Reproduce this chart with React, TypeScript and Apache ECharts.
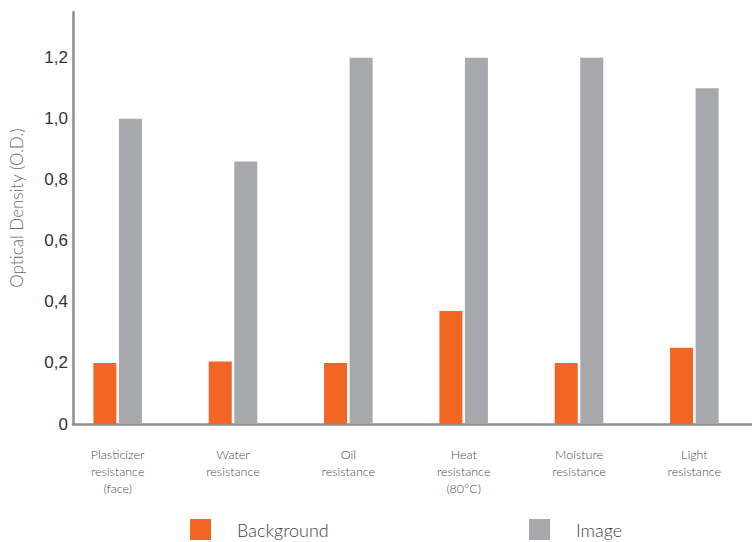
import React, { useEffect, useRef } from "react";
import * as echarts from "echarts";

const categories = [
  "Plasticizer\nresistance\n(face)",
  "Water\nresistance",
  "Oil\nresistance",
  "Heat\nresistance\n(80°C)",
  "Moisture\nresistance",
  "Light\nresistance",
];
const backgroundValues = [0.2, 0.205, 0.2, 0.37, 0.2, 0.25];
const imageValues = [1.0, 0.86, 1.2, 1.2, 1.2, 1.1];
const seriesNames = ["Background", "Image"];
const yAxisTitle = "Optical Density (O.D.)";

const ORANGE = "#F26522";
const GRAY = "#A7A8AB";
const AXIS = "#8E8E8E";
const LIGHT_FONT = "Lato, 'Open Sans', sans-serif";

export default function App() {
  const ref = useRef<HTMLDivElement>(null);
  useEffect(() => {
    if (!ref.current) return;
    const chart = echarts.init(ref.current, undefined, { renderer: "svg" });
    const yScale = { min: 0, max: 1.35, interval: 0.2 };
    const legendText = {
      fontSize: 18,
      color: "#444444",
      fontFamily: LIGHT_FONT,
      fontWeight: 300,
      padding: [0, 0, 0, 21],
    };
    chart.setOption({
      animation: false,
      backgroundColor: "#ffffff",
      grid: [
        { left: 72, right: 0, top: 12, bottom: 118 },
        { left: 60, right: -5, top: 12, bottom: 118 },
      ],
      xAxis: [
        {
          gridIndex: 0,
          type: "value",
          min: 0,
          max: 1,
          axisLine: { show: true, lineStyle: { color: AXIS, width: 2.5 } },
          axisTick: { show: false },
          axisLabel: { show: false },
          splitLine: { show: false },
        },
        {
          gridIndex: 1,
          type: "category",
          data: categories,
          axisLine: { show: false },
          axisTick: { show: false },
          axisLabel: {
            margin: 22,
            fontSize: 12.5,
            lineHeight: 17,
            color: "#4a4a4a",
            fontFamily: LIGHT_FONT,
            fontWeight: 300,
            interval: 0,
          },
        },
      ],
      yAxis: [
        {
          gridIndex: 0,
          type: "value",
          ...yScale,
          name: yAxisTitle,
          nameLocation: "middle",
          nameGap: 48,
          nameTextStyle: {
            fontSize: 17,
            color: "#6a6a6a",
            fontFamily: LIGHT_FONT,
            fontWeight: 300,
            padding: [0, 0, 0, 20],
          },
          axisLine: { show: true, lineStyle: { color: AXIS, width: 2.5 } },
          axisTick: { show: false },
          splitLine: { show: false },
          axisLabel: {
            showMaxLabel: false,
            margin: 5,
            fontSize: 17,
            color: "#333333",
            fontFamily: "'Liberation Sans', Arial, sans-serif",
            formatter: (v: number) =>
              v === 0 ? "0" : v.toFixed(1).replace(".", ","),
          },
        },
        {
          gridIndex: 1,
          type: "value",
          ...yScale,
          show: false,
          splitLine: { show: false },
        },
      ],
      legend: [
        {
          data: [seriesNames[0]],
          left: 190,
          top: 519,
          padding: 0,
          icon: "rect",
          itemWidth: 21,
          itemHeight: 21,
          textStyle: legendText,
        },
        {
          data: [seriesNames[1]],
          left: 529,
          top: 519,
          padding: 0,
          icon: "rect",
          itemWidth: 21,
          itemHeight: 21,
          textStyle: legendText,
        },
      ],
      series: [
        {
          name: seriesNames[0],
          type: "bar",
          xAxisIndex: 1,
          yAxisIndex: 1,
          data: backgroundValues,
          barWidth: 23,
          barGap: "11%",
          itemStyle: { color: ORANGE },
        },
        {
          name: seriesNames[1],
          type: "bar",
          xAxisIndex: 1,
          yAxisIndex: 1,
          data: imageValues,
          barWidth: 23,
          barGap: "11%",
          itemStyle: { color: GRAY },
        },
      ],
    });
    return () => chart.dispose();
  }, []);
  return (
    <div
      ref={ref}
      style={{ position: "fixed", left: 0, top: 0, width: 752, height: 542 }}
    />
  );
}
